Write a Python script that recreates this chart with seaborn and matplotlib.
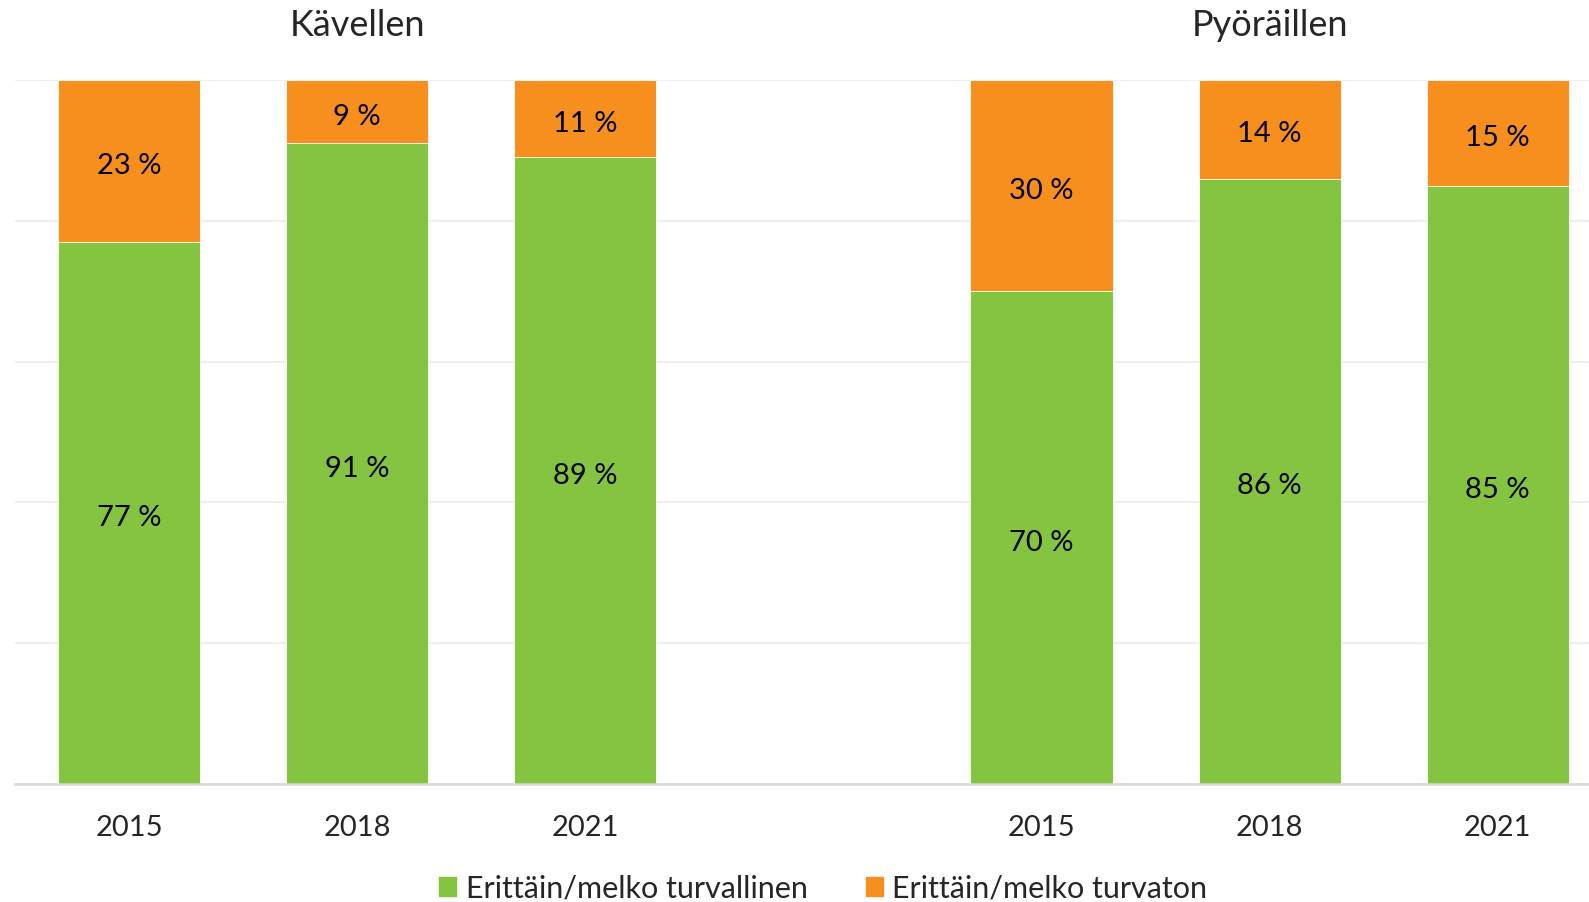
import pandas as pd
import matplotlib.pyplot as plt
import seaborn as sns
from matplotlib.patches import Patch

# ------------------- datos
groups = ["Kävellen", "Pyöräillen"]
years = ["2015", "2018", "2021"]
safe_walk = [77, 91, 89]
unsafe_walk = [23, 9, 11]
safe_bike = [70, 86, 85]
unsafe_bike = [30, 14, 15]
series_names = ["Erittäin/melko turvallinen", "Erittäin/melko turvaton"]

green = "#84C441"
orange = "#F78F1F"

rows = []
for g, safe, unsafe in [(groups[0], safe_walk, unsafe_walk), (groups[1], safe_bike, unsafe_bike)]:
    for y, s, u in zip(years, safe, unsafe):
        rows.append({"slot": f"{g} {y}", "group": g, "year": y, "safe": s, "unsafe": u, "total": s + u})
df = pd.DataFrame(rows)

# hueco entre los dos grupos
order = [f"{groups[0]} {y}" for y in years] + ["gap"] + [f"{groups[1]} {y}" for y in years]

sns.set_style("white")
plt.rcParams["font.family"] = ["Lato", "DejaVu Sans"]

fig = plt.figure(figsize=(15.89, 9.02), dpi=100)
ax = fig.add_axes([15 / 1589, 1 - 784 / 902, 1 - 15 / 1589, (784 - 80) / 902])

bw = 0.623
sns.barplot(data=df, x="slot", y="total", order=order, color=orange, width=bw,
            saturation=1, edgecolor="white", linewidth=0.6, ax=ax, zorder=3)
sns.barplot(data=df, x="slot", y="safe", order=order, color=green, width=bw,
            saturation=1, edgecolor="white", linewidth=0.6, ax=ax, zorder=4)

# etiquetas de porcentaje
off = 0.7
for _, r in df.iterrows():
    pos = order.index(r["slot"])
    ax.text(pos, r["safe"] / 2 - off, f"{r['safe']} %", ha="center", va="center",
            fontsize=21, color="black", zorder=5)
    ax.text(pos, r["safe"] + r["unsafe"] / 2 - off, f"{r['unsafe']} %", ha="center",
            va="center", fontsize=21, color="black", zorder=5)

# titulos de grupo
ax.text(1, 107.8, groups[0], ha="center", va="center", fontsize=26, clip_on=False)
ax.text(5, 107.8, groups[1], ha="center", va="center", fontsize=26, clip_on=False)

ax.set_xlim(-0.5, 6.4)
ax.set_ylim(0, 100)
ax.set_yticks([0, 20, 40, 60, 80, 100])
ax.set_yticklabels([])
ax.yaxis.grid(True, color="#EEEEEE", linewidth=1.5, zorder=0)
ax.xaxis.grid(False)
ax.set_xticks(range(7))
ax.set_xticklabels(years + [""] + years, fontsize=21)
ax.tick_params(axis="x", length=0, pad=22)
ax.tick_params(axis="y", length=0)
ax.set_xlabel("")
ax.set_ylabel("")
for s in ["top", "left", "right"]:
    ax.spines[s].set_visible(False)
ax.spines["bottom"].set_color("#D9D9D9")
ax.spines["bottom"].set_linewidth(1.8)
ax.spines["bottom"].set_zorder(6)

handles = [Patch(color=green), Patch(color=orange)]
fig.legend(handles, series_names, loc="center", bbox_to_anchor=(0.518, 0.015),
           ncol=2, frameon=False, fontsize=22, handlelength=0.57, handleheight=0.57,
           handletextpad=0.3, columnspacing=1.9)

plt.savefig("out.png", dpi=100)
